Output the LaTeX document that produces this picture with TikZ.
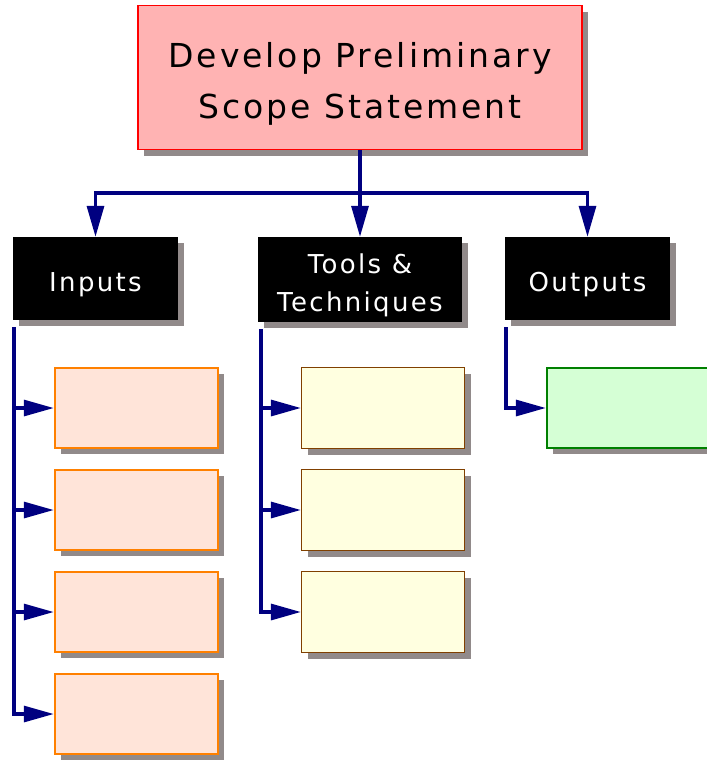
\documentclass[tikz,border=0pt]{standalone}
\usepackage{fontspec}
\setmainfont{DejaVu Sans}[LetterSpace=9]
\usepackage{tikz}
\usetikzlibrary{arrows.meta,shadows}

\definecolor{navy}{RGB}{0,0,128}
\definecolor{shadowgray}{RGB}{145,138,138}
\definecolor{titlefill}{RGB}{255,179,179}
\definecolor{infill}{RGB}{255,228,217}
\definecolor{inborder}{RGB}{255,128,0}
\definecolor{toolfill}{RGB}{255,255,224}
\definecolor{toolborder}{RGB}{128,64,0}
\definecolor{outfill}{RGB}{213,255,213}
\definecolor{outborder}{RGB}{0,128,0}

\newcommand{\headstrut}{\rule{0pt}{31pt}}

\tikzset{
  boxshadow/.style={drop shadow={shadow xshift=6pt,shadow yshift=-6pt,fill=shadowgray,opacity=1}},
  titlebox/.style={draw=red,line width=1.7pt,fill=titlefill,boxshadow,inner sep=0pt,
    minimum width=444.5pt,minimum height=144pt,align=center,font=\fontsize{33}{51}\selectfont},
  headbox/.style={fill=black,text=white,boxshadow,inner sep=0pt,align=center,
    minimum height=83pt,font=\fontsize{26}{38}\selectfont},
  inbox/.style={draw=inborder,line width=2pt,fill=infill,boxshadow,inner sep=0pt,
    minimum width=163.5pt,minimum height=80.5pt},
  toolbox/.style={draw=toolborder,line width=1.3pt,fill=toolfill,boxshadow,inner sep=0pt,
    minimum width=163pt,minimum height=81pt},
  outbox/.style={draw=outborder,line width=1.8pt,fill=outfill,boxshadow,inner sep=0pt,
    minimum width=163.5pt,minimum height=80.5pt},
  flow/.style={draw=navy,line width=3.2pt},
  downtip/.style={-{Triangle[length=31pt,width=17pt]}},
  sidetip/.style={-{Triangle[length=30pt,width=16pt]}}
}

\begin{document}
\begin{tikzpicture}[x=1pt,y=-1pt]
\useasboundingbox (0,0) rectangle (707,761);

% main process
\node[titlebox] (develop) at (360,77.5) {\rule{0pt}{38pt}Develop Preliminary\\Scope Statement};

% the three headings
\node[headbox,minimum width=165pt] (inputs) at (95.5,278.5) {\headstrut Inputs};
\node[headbox,minimum width=204pt,minimum height=85pt] (tools) at (360,279.5) {\headstrut Tools \&\\Techniques};
\node[headbox,minimum width=165pt] (outputs) at (587.5,278.5) {\headstrut Outputs};

% empty item boxes
\foreach \i/\y in {1/408,2/510,3/612,4/714}
  \node[inbox] (in\i) at (136.5,\y) {};
\foreach \i/\y in {1/408,2/510,3/612}
  \node[toolbox] (tool\i) at (383,\y) {};
\node[outbox] (out1) at (628.5,408) {};

% connectors
\coordinate (split) at (360,193);
\draw[flow] (develop.south) -- (split);
\draw[flow,downtip] (split) -| (inputs.north);
\draw[flow,downtip] (split) -- (tools.north);
\draw[flow,downtip] (split) -| (outputs.north);

\coordinate (intrunk) at (14,327);
\foreach \i in {1,...,4}
  \draw[flow,sidetip] (intrunk) |- (in\i.west);
\coordinate (tooltrunk) at (261,329);
\foreach \i in {1,...,3}
  \draw[flow,sidetip] (tooltrunk) |- (tool\i.west);
\coordinate (outtrunk) at (506,327);
\draw[flow,sidetip] (outtrunk) |- (out1.west);
\end{tikzpicture}
\end{document}
